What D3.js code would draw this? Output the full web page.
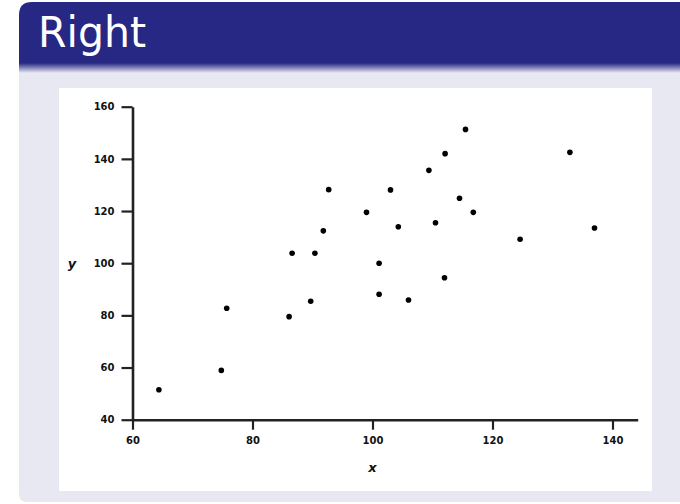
<!DOCTYPE html>
<html>
<head>
<meta charset="utf-8">
<script src="https://cdn.jsdelivr.net/npm/d3@7"></script>
<style>
  html, body { margin: 0; padding: 0; background: #ffffff; }
  svg { display: block; }
</style>
</head>
<body>
<svg id="chart" width="680" height="504"></svg>
<script>
// ---- data ----
const titleText = "Right";
const xValues = [64.4, 74.8, 75.7, 86.1, 86.6, 89.7, 90.4, 91.8, 92.7, 99.0, 101.1, 101.1, 103.0, 104.3, 106.0, 109.4, 110.5, 112.1, 112.0, 114.5, 115.5, 116.8, 124.6, 132.9, 137.0];
const yValues = [51.5, 58.9, 82.7, 79.5, 103.8, 85.4, 103.8, 112.4, 128.2, 119.5, 100.0, 88.1, 128.1, 114.0, 85.9, 135.6, 115.5, 142.0, 94.4, 124.9, 151.3, 119.5, 109.2, 142.5, 113.5];
const xTicks = [60, 80, 100, 120, 140];
const yTicks = [40, 60, 80, 100, 120, 140, 160];
const xLabel = "x";
const yLabel = "y";

const svg = d3.select("#chart");
const blue = "#262883";
const lav = "#e8e8f2";

// ---- slide / block frame ----
const defs = svg.append("defs");
const grad = defs.append("linearGradient").attr("id", "shade").attr("x1", 0).attr("y1", 0).attr("x2", 0).attr("y2", 1);
grad.append("stop").attr("offset", "0%").attr("stop-color", blue);
grad.append("stop").attr("offset", "100%").attr("stop-color", lav);

// body (lavender) with rounded bottom-left
svg.append("path")
  .attr("d", "M19,64 L680,64 L680,502 L27,502 Q19,502 19,494 Z")
  .attr("fill", lav);
// title bar with rounded top-left
svg.append("path")
  .attr("d", "M19,64 L19,15 Q19,2 32,2 L680,2 L680,64 Z")
  .attr("fill", blue);
// shade below title bar
svg.append("rect").attr("x", 19).attr("y", 63).attr("width", 661).attr("height", 10).attr("fill", "url(#shade)");

svg.append("text")
  .attr("x", 38).attr("y", 47)
  .attr("fill", "#ffffff")
  .attr("font-family", "'DejaVu Sans', sans-serif")
  .attr("font-size", 42)
  .attr("textLength", 108)
  .attr("lengthAdjust", "spacingAndGlyphs")
  .text(titleText);

// white plot panel
svg.append("rect").attr("x", 59).attr("y", 88).attr("width", 593).attr("height", 403).attr("fill", "#ffffff");

// ---- scales ----
const x = d3.scaleLinear().domain([60, 144.2]).range([132.5, 637.7]);
const y = d3.scaleLinear().domain([40, 160]).range([419.7, 106.7]);

const tickFont = "'DejaVu Sans', sans-serif";

const xAxis = svg.append("g")
  .attr("transform", `translate(0,${y(40)})`)
  .call(d3.axisBottom(x).tickValues(xTicks).tickFormat(d3.format("d")).tickSizeInner(10).tickSizeOuter(0).tickPadding(7));
const yAxis = svg.append("g")
  .attr("transform", `translate(${x(60)},0)`)
  .call(d3.axisLeft(y).tickValues(yTicks).tickFormat(d3.format("d")).tickSizeInner(11).tickSizeOuter(0).tickPadding(7));

[xAxis, yAxis].forEach(g => {
  g.select(".domain").attr("stroke", "#222").attr("stroke-width", 2.6);
  g.selectAll(".tick line").attr("stroke", "#222").attr("stroke-width", 2.2);
  g.selectAll(".tick text")
    .attr("fill", "#111")
    .attr("font-family", tickFont)
    .attr("font-weight", "bold")
    .attr("font-size", 10);
});

// axis labels
svg.append("text")
  .attr("x", x(100)).attr("y", 472)
  .attr("text-anchor", "middle")
  .attr("font-family", tickFont)
  .attr("font-style", "italic").attr("font-weight", "bold")
  .attr("font-size", 13).attr("fill", "#111")
  .text(xLabel);
svg.append("text")
  .attr("x", 72).attr("y", y(100) + 5)
  .attr("text-anchor", "middle")
  .attr("font-family", tickFont)
  .attr("font-style", "italic").attr("font-weight", "bold")
  .attr("font-size", 13).attr("fill", "#111")
  .text(yLabel);

// points
const pts = xValues.map((v, i) => ({ x: v, y: yValues[i] }));
svg.append("g").selectAll("circle").data(pts).join("circle")
  .attr("cx", d => x(d.x))
  .attr("cy", d => y(d.y))
  .attr("r", 2.8)
  .attr("fill", "#000");
</script>
</body>
</html>
